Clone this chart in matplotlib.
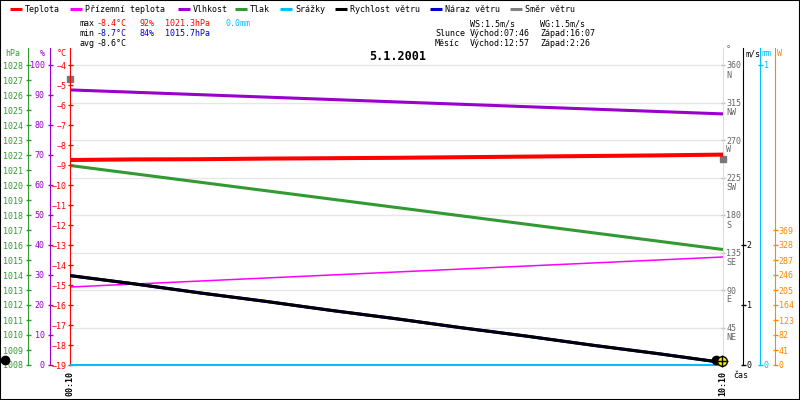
import matplotlib
matplotlib.use('Agg')
import matplotlib.pyplot as plt
from matplotlib.lines import Line2D
from matplotlib.patches import Rectangle

plt.rcParams['font.family'] = ['DejaVu Sans Mono', 'DejaVu Sans']

# data (hours after 00:10)
hodiny = [0, 1, 2, 3, 4, 5, 6, 7, 8, 9, 10]
cas_popisky = ['00:10', '10:10']
cas_ticky = [0, 10]
teplota = [-8.75, -8.72, -8.71, -8.68, -8.66, -8.64, -8.61, -8.58, -8.55, -8.52, -8.48]
prizemni = [-15.1, -14.95, -14.8, -14.65, -14.5, -14.35, -14.2, -14.05, -13.9, -13.75, -13.6]
vlhkost = [91.7, 90.9, 90.1, 89.3, 88.5, 87.7, 86.9, 86.1, 85.3, 84.5, 83.7]
tlak = [1021.3, 1020.74, 1020.18, 1019.62, 1019.06, 1018.5, 1017.94, 1017.38, 1016.82, 1016.26, 1015.7]
srazky = [0.0, 0.0, 0.0, 0.0, 0.0, 0.0, 0.0, 0.0, 0.0, 0.0, 0.0]
rychlost = [1.49, 1.35, 1.2, 1.06, 0.91, 0.77, 0.62, 0.48, 0.33, 0.19, 0.04]
naraz = [1.49, 1.35, 1.2, 1.06, 0.91, 0.77, 0.62, 0.48, 0.33, 0.19, 0.04]
smer_h = [0, 10]
smer = [343, 247]
mesic_h = [-1.0, 9.9]
slunce_h = [9.98]

smer_ticky = [45, 90, 135, 180, 225, 270, 315, 360]
smer_nazvy = ['NE', 'E', 'SE', 'S', 'SW', 'W', 'NW', 'N']
hpa_ticky = list(range(1008, 1029))
proc_ticky = list(range(0, 101, 10))
tep_ticky = list(range(-19, -3))
ms_ticky = [0, 1, 2]
mm_ticky = [0, 1]
w_ticky = [0, 41, 82, 123, 164, 205, 246, 287, 328, 369]

legenda = [('Teplota', '#ff0000', 10), ('Přízemní teplota', '#ff00ff', 70),
           ('Vlhkost', '#9900cc', 178), ('Tlak', '#339933', 235),
           ('Srážky', '#00bfff', 280), ('Rychlost větru', '#000000', 335),
           ('Náraz větru', '#0000cc', 430), ('Směr větru', '#808080', 510)]

W, H = 800, 400
PX = 317.0  # plot height in pixels (y 48..365)
FS = 6


def fx(p):
    return p / W


def fy(p):
    return 1 - p / H


def ftext(x, y, s, color='black', **kw):
    fig.text(fx(x), fy(y), s, color=color, fontsize=FS, va='center', ha='left', **kw)


def osa(parent, side, pos, color, lo, ppu, ticks, pad, lcolor=None):
    a = parent.twinx()
    for s in a.spines.values():
        s.set_visible(False)
    sp = a.spines[side]
    sp.set_visible(True)
    sp.set_position(('axes', pos))
    sp.set_color(color)
    a.set_ylim(lo, lo + PX / ppu)
    if side == 'left':
        a.yaxis.tick_left()
    else:
        a.yaxis.tick_right()
    a.set_yticks(ticks)
    a.tick_params(axis='y', colors=color, labelcolor=lcolor or color, direction='inout',
                  length=3.6, width=1, labelsize=FS, pad=pad)
    return a


fig = plt.figure(figsize=(8, 4), dpi=100)
ax = fig.add_axes([fx(70), fy(365), (723 - 70) / W, PX / H])
ax.set_xlim(0, 10)
ax.set_ylim(0, PX * 360 / 300)
for s in ['left', 'top', 'bottom']:
    ax.spines[s].set_visible(False)
ax.spines['right'].set_color('#dddddd')
ax.set_yticks(smer_ticky)
ax.grid(axis='y', color='#e6e6e6', lw=1)
ax.set_xticks(cas_ticky)
ax.set_xticklabels(cas_popisky, rotation=90, fontsize=FS, fontweight='bold')
ax.tick_params(axis='x', length=0, pad=4)
for v, n in zip(smer_ticky, smer_nazvy):
    ax.annotate(n, xy=(1, v), xycoords=('axes fraction', 'data'), xytext=(3, -10),
                textcoords='offset pixels', fontsize=FS, color='#666666', va='center')
ax.plot(smer_h, smer, 's', color='#777777', ms=4, clip_on=False, zorder=5)

ax_p = osa(ax, 'left', (28 - 70) / 653, '#339933', 1008, 15, hpa_ticky, 2)
ax_p.plot(hodiny, tlak, color='#339933', lw=2.2, solid_capstyle='butt')

ax_v = osa(ax, 'left', (50 - 70) / 653, '#9900cc', 0, 3, proc_ticky, 2)
ax_v.plot(hodiny, vlhkost, color='#9900cc', lw=2.2, solid_capstyle='butt')

ax_t = osa(ax, 'left', 0, '#ff0000', -19, 20, tep_ticky, 0.5)
ax_t.plot(hodiny, prizemni, color='#ff00ff', lw=1.1, solid_capstyle='butt')
ax_t.plot(hodiny, teplota, color='#ff0000', lw=2.9, solid_capstyle='butt')

ax_mm = osa(ax, 'right', (760 - 70) / 653, '#00bfff', 0, 300, mm_ticky, 1)
ax_mm.plot(hodiny, srazky, color='#00bfff', lw=1.5, clip_on=False, solid_capstyle='butt')

ax_ms = osa(ax, 'right', (743 - 70) / 653, '#000000', 0, 60, ms_ticky, 1)
ax_ms.plot(hodiny, naraz, color='#0000cc', lw=2.2, solid_capstyle='butt')
ax_ms.plot(hodiny, rychlost, color='#000000', lw=2.2, solid_capstyle='butt')

ax_w = osa(ax, 'right', (775 - 70) / 653, '#ff8800', 0, 15 / 41, w_ticky, 1)

# twinx moves the parent's ticks to the left, put the direction scale back on the right
ax.yaxis.tick_right()
ax.tick_params(axis='y', colors='#bbbbbb', labelcolor='#666666', direction='inout',
               length=3, width=1, labelsize=FS, pad=1)

# sun / moon icons at the bottom
ikony = ax_ms.get_xaxis_transform()
ax_ms.plot(mesic_h, [0.016] * len(mesic_h), 'o', color='black', ms=6, transform=ikony, clip_on=False, zorder=6)
ax_ms.plot(slunce_h, [0.014], 'o', mfc='#ffee00', mec='black', ms=7, transform=ikony, clip_on=False, zorder=7)
ax_ms.plot(slunce_h, [0.014], '+', color='black', ms=8, transform=ikony, clip_on=False, zorder=8)

# legend row
for nazev, barva, x in legenda:
    fig.add_artist(Line2D([fx(x), fx(x + 12)], [fy(9), fy(9)], color=barva, lw=2.2,
                          transform=fig.transFigure, solid_capstyle='butt'))
    ftext(x + 15, 9, nazev)

# statistics block
ftext(80, 24, 'max')
ftext(97, 24, '-8.4°C', '#ff0000')
ftext(139, 24, '92%', '#ff0000')
ftext(165, 24, '1021.3hPa', '#ff0000')
ftext(226, 24, '0.0mm', '#00bfff')
ftext(80, 34, 'min')
ftext(97, 34, '-8.7°C', '#0000cc')
ftext(139, 34, '84%', '#0000cc')
ftext(165, 34, '1015.7hPa', '#0000cc')
ftext(80, 44, 'avg')
ftext(97, 44, '-8.6°C')
ftext(470, 24, 'WS:1.5m/s')
ftext(540, 24, 'WG:1.5m/s')
ftext(435, 34, 'Slunce')
ftext(470, 34, 'Východ:07:46')
ftext(540, 34, 'Západ:16:07')
ftext(435, 44, 'Měsíc')
ftext(470, 44, 'Východ:12:57')
ftext(540, 44, 'Západ:2:26')

fig.text(fx(398), fy(57), '5.1.2001', fontsize=8.5, fontweight='bold', ha='center', va='center')

# axis titles
ftext(5, 54, 'hPa', '#339933')
ftext(40, 54, '%', '#9900cc')
ftext(57, 54, '°C', '#ff0000')
ftext(726, 50, '°', '#666666')
ftext(745, 54, 'm/s')
ftext(762, 54, 'mm', '#00bfff')
ftext(777, 54, 'W', '#ff8800')
ftext(733, 375, 'čas')

fig.add_artist(Rectangle((0, 0), 1, 1, transform=fig.transFigure, fill=False, ec='black', lw=1.5))

fig.savefig('out.png', dpi=100)
